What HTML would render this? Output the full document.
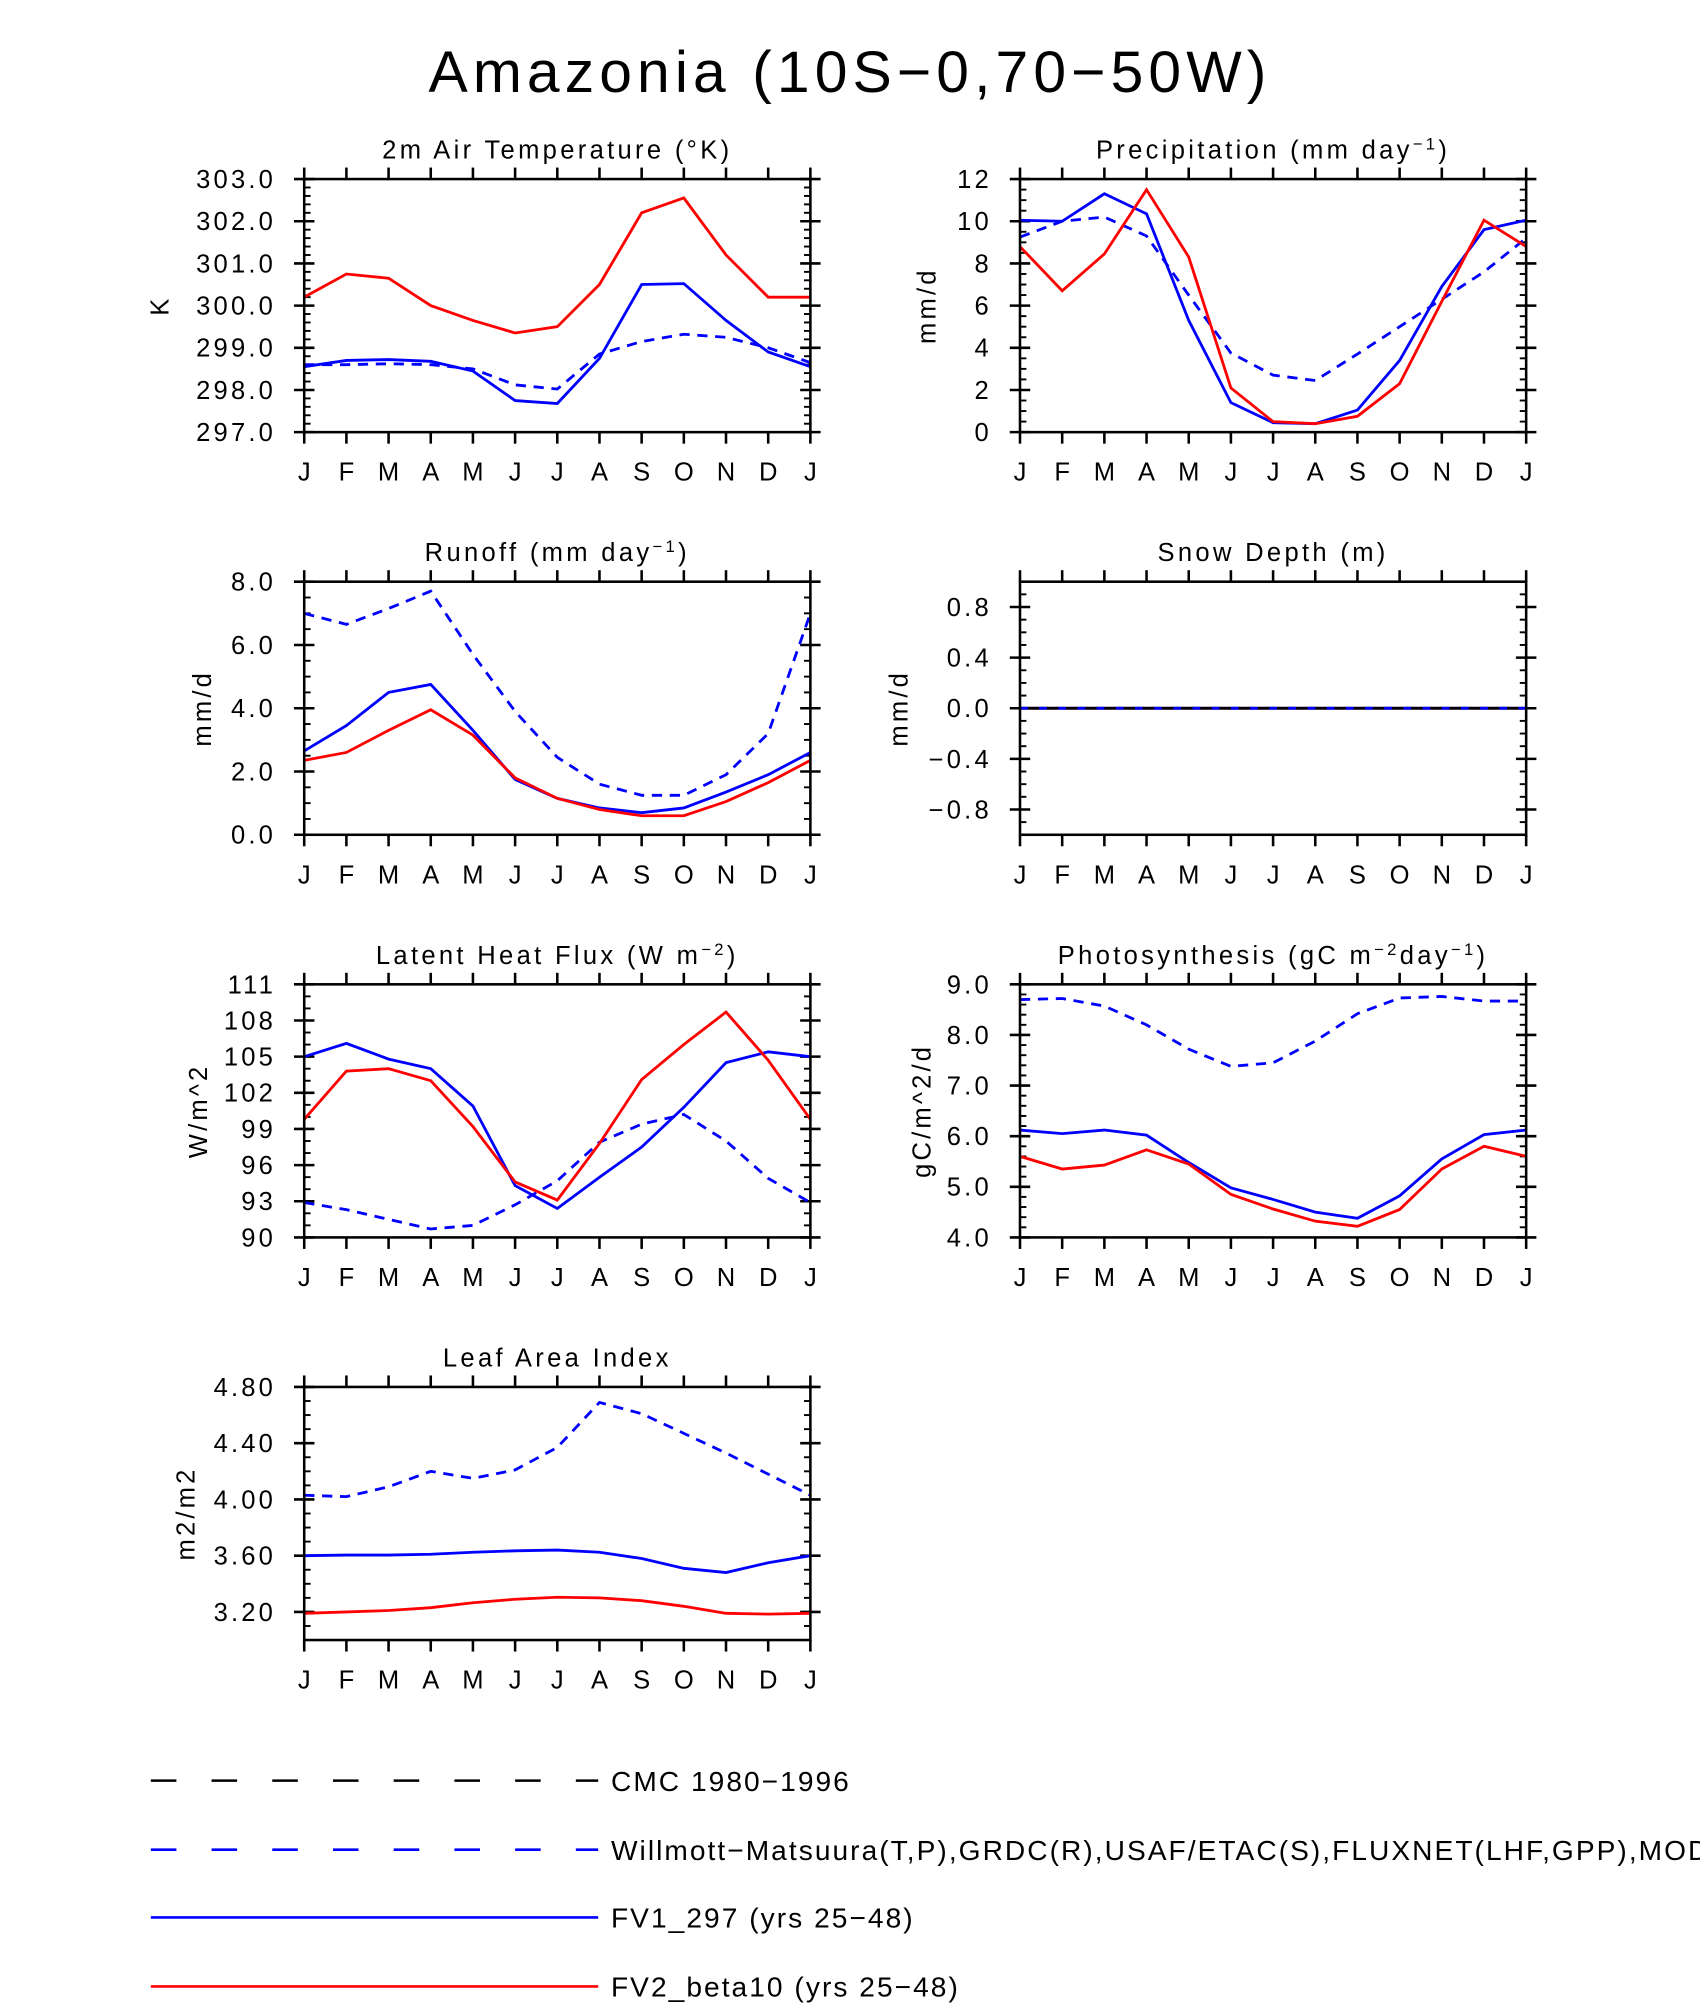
<!DOCTYPE html>
<html><head><meta charset="utf-8"><style>
html,body{margin:0;padding:0;background:#fff;}
svg{display:block;font-family:"Liberation Sans",sans-serif;}
</style></head><body>
<svg id="fig" width="1700" height="2007" viewBox="0 0 1330 1570" xmlns="http://www.w3.org/2000/svg">
<text x="665" y="72" font-size="46" text-anchor="middle" letter-spacing="4" fill="#000">Amazonia (10S−0,70−50W)</text>
<g id="panels"></g>
<g id="legend" letter-spacing="1.6">
 <line x1="118" y1="1393" x2="468" y2="1393" stroke="#000" stroke-width="2" stroke-dasharray="20,27.5"/>
 <text x="478" y="1401" font-size="22">CMC 1980−1996</text>
 <line x1="118" y1="1447" x2="468" y2="1447" stroke="#00f" stroke-width="2" stroke-dasharray="20,27.5"/>
 <text x="478" y="1455" font-size="22">Willmott−Matsuura(T,P),GRDC(R),USAF/ETAC(S),FLUXNET(LHF,GPP),MODIS(LAI)</text>
 <line x1="118" y1="1500" x2="468" y2="1500" stroke="#00f" stroke-width="2"/>
 <text x="478" y="1508" font-size="22">FV1_297 (yrs 25−48)</text>
 <line x1="118" y1="1554" x2="468" y2="1554" stroke="#f00" stroke-width="2"/>
 <text x="478" y="1562" font-size="22">FV2_beta10 (yrs 25−48)</text>
</g>
</svg>
<script>
const months = ["J","F","M","A","M","J","J","A","S","O","N","D","J"];
const tempObs = [298.6,298.6,298.62,298.6,298.5,298.12,298.02,298.85,299.15,299.32,299.25,299.0,298.65];
const tempFV1 = [298.55,298.7,298.72,298.68,298.45,297.75,297.68,298.75,300.5,300.52,299.65,298.9,298.55];
const tempFV2 = [300.2,300.75,300.65,300.0,299.65,299.35,299.5,300.5,302.2,302.55,301.2,300.2,300.2];
const precObs = [9.25,10.0,10.2,9.3,6.5,3.75,2.7,2.45,3.7,5.0,6.3,7.6,9.2];
const precFV1 = [10.05,10.0,11.3,10.35,5.3,1.4,0.45,0.4,1.05,3.4,6.9,9.6,10.05];
const precFV2 = [8.8,6.7,8.45,11.5,8.3,2.1,0.5,0.4,0.75,2.3,6.2,10.05,8.8];
const runObs = [7.0,6.65,7.15,7.7,5.7,3.9,2.45,1.6,1.25,1.25,1.9,3.2,7.0];
const runFV1 = [2.65,3.45,4.5,4.75,3.3,1.75,1.15,0.85,0.7,0.85,1.35,1.9,2.6];
const runFV2 = [2.35,2.6,3.3,3.95,3.15,1.8,1.15,0.8,0.6,0.6,1.05,1.65,2.35];
const snowCMC = [0,0,0,0,0,0,0,0,0,0,0,0,0];
const snowObs = [0,0,0,0,0,0,0,0,0,0,0,0,0];
const snowFV1 = [0,0,0,0,0,0,0,0,0,0,0,0,0];
const snowFV2 = [0,0,0,0,0,0,0,0,0,0,0,0,0];
const lhfObs = [92.9,92.3,91.5,90.7,91.0,92.7,94.7,97.9,99.4,100.2,98.0,94.9,92.9];
const lhfFV1 = [105.0,106.1,104.8,104.0,100.9,94.3,92.4,95.0,97.5,100.8,104.5,105.4,105.0];
const lhfFV2 = [99.8,103.8,104.0,103.0,99.2,94.6,93.1,97.8,103.1,106.0,108.7,104.7,99.8];
const gppObs = [8.7,8.72,8.57,8.2,7.72,7.38,7.45,7.88,8.42,8.73,8.76,8.67,8.67];
const gppFV1 = [6.12,6.05,6.12,6.02,5.48,4.98,4.75,4.5,4.38,4.82,5.55,6.03,6.12];
const gppFV2 = [5.6,5.35,5.43,5.73,5.45,4.85,4.56,4.32,4.22,4.55,5.35,5.8,5.6];
const laiObs = [4.03,4.02,4.09,4.2,4.15,4.21,4.37,4.69,4.61,4.47,4.33,4.18,4.03];
const laiFV1 = [3.6,3.605,3.605,3.61,3.625,3.635,3.64,3.625,3.58,3.51,3.48,3.55,3.6];
const laiFV2 = [3.19,3.2,3.21,3.23,3.265,3.29,3.305,3.3,3.28,3.24,3.19,3.185,3.19];
const tempTicks = ["297.0","298.0","299.0","300.0","301.0","302.0","303.0"];
const precTicks = ["0","2","4","6","8","10","12"];
const runTicks = ["0.0","2.0","4.0","6.0","8.0"];
const snowTicks = ["−0.8","−0.4","0.0","0.4","0.8"];
const lhfTicks = ["90","93","96","99","102","105","108","111"];
const gppTicks = ["4.0","5.0","6.0","7.0","8.0","9.0"];
const laiTicks = ["3.20","3.60","4.00","4.40","4.80"];

const NS="http://www.w3.org/2000/svg";
const root=document.getElementById('panels');
function mk(tag,attrs,parent){const e=document.createElementNS(NS,tag);for(const k in attrs)e.setAttribute(k,attrs[k]);parent.appendChild(e);return e;}

const panels=[
 {name:"temperature",x0:238,y0:140,title:"2m Air Temperature (°K)",ylab:"K",ylabX:132,min:297,max:303,minor:0.2,ticks:tempTicks,tickVals:[297,298,299,300,301,302,303],obs:tempObs,fv1:tempFV1,fv2:tempFV2},
 {name:"precipitation",x0:798,y0:140,title:["Precipitation (mm day","−1",")"],ylab:"mm/d",ylabX:732,min:0,max:12,minor:0.5,ticks:precTicks,tickVals:[0,2,4,6,8,10,12],obs:precObs,fv1:precFV1,fv2:precFV2},
 {name:"runoff",x0:238,y0:455,title:["Runoff (mm day","−1",")"],ylab:"mm/d",ylabX:165,min:0,max:8,minor:0.5,ticks:runTicks,tickVals:[0,2,4,6,8],obs:runObs,fv1:runFV1,fv2:runFV2},
 {name:"snow-depth",x0:798,y0:455,title:"Snow Depth (m)",ylab:"mm/d",ylabX:710,min:-1,max:1,minor:0.1,ticks:snowTicks,tickVals:[-0.8,-0.4,0,0.4,0.8],obs:snowObs,fv1:snowFV1,fv2:snowFV2,cmc:snowCMC},
 {name:"latent-heat",x0:238,y0:770,title:["Latent Heat Flux (W m","−2",")"],ylab:"W/m^2",ylabX:162,min:90,max:111,minor:1,ticks:lhfTicks,tickVals:[90,93,96,99,102,105,108,111],obs:lhfObs,fv1:lhfFV1,fv2:lhfFV2},
 {name:"photosynthesis",x0:798,y0:770,title:["Photosynthesis (gC m","−2","day","−1",")"],ylab:"gC/m^2/d",ylabX:728,min:4,max:9,minor:0.2,ticks:gppTicks,tickVals:[4,5,6,7,8,9],obs:gppObs,fv1:gppFV1,fv2:gppFV2},
 {name:"leaf-area-index",x0:238,y0:1085,title:"Leaf Area Index",ylab:"m2/m2",ylabX:152,min:3.0,max:4.8,minor:0.1,ticks:laiTicks,tickVals:[3.2,3.6,4.0,4.4,4.8],obs:laiObs,fv1:laiFV1,fv2:laiFV2}
];
const W=396,H=198;
panels.forEach(p=>{
 const g=mk('g',{},root);
 
 
 const xs=i=>p.x0+i*W/12;
 const ys=v=>p.y0+H-(v-p.min)/(p.max-p.min)*H;
 const t=mk('text',{x:p.x0+W/2,y:p.y0-16,'font-size':20,'text-anchor':'middle','letter-spacing':2.6},g);
 
 
 if(typeof p.title==='string'){t.textContent=p.title;}
 else{p.title.forEach((s,i)=>{const ts=mk('tspan',{},t);ts.textContent=s;if(i%2===1){ts.setAttribute('baseline-shift','super');ts.setAttribute('font-size','13');}});}
 const yl=mk('text',{x:p.ylabX,y:p.y0+H/2,'font-size':20,'text-anchor':'middle','letter-spacing':2.5,transform:`rotate(-90 ${p.ylabX} ${p.y0+H/2})`},g);
 yl.textContent=p.ylab;
 
 
 const n=Math.round((p.max-p.min)/p.minor);
 for(let k=0;k<=n;k++){const y=ys(p.min+k*p.minor);
  mk('line',{x1:p.x0,x2:p.x0+5,y1:y,y2:y,stroke:'#000','stroke-width':1.5},g);
  mk('line',{x1:p.x0+W-5,x2:p.x0+W,y1:y,y2:y,stroke:'#000','stroke-width':1.5},g);}
 p.tickVals.forEach((v,i)=>{const y=ys(v);
  mk('line',{x1:p.x0-8,x2:p.x0+8,y1:y,y2:y,stroke:'#000','stroke-width':2},g);
  mk('line',{x1:p.x0+W-8,x2:p.x0+W+8,y1:y,y2:y,stroke:'#000','stroke-width':2},g);
  const tl=mk('text',{x:p.x0-22,y:y+7,'font-size':20,'text-anchor':'end','letter-spacing':2.5},g);
  tl.textContent=p.ticks[i];
  
  
 });
 months.forEach((m,i)=>{const x=xs(i);
  mk('line',{x1:x,x2:x,y1:p.y0-9,y2:p.y0,stroke:'#000','stroke-width':2},g);
  mk('line',{x1:x,x2:x,y1:p.y0+H,y2:p.y0+H+9,stroke:'#000','stroke-width':2},g);
  const ml=mk('text',{x:x,y:p.y0+H+38,'font-size':20,'text-anchor':'middle'},g);
  ml.textContent=m;
  
  
 });
 let series=[[p.obs,'#00f','8,6','obs'],[p.fv1,'#00f','none','fv1'],[p.fv2,'#f00','none','fv2']];
 if(p.cmc) series=[[p.fv2,'#f00','none','fv2'],[p.fv1,'#00f','none','fv1'],[p.cmc,'#000','none','cmc'],[p.obs,'#00f','6,9','obs']];
 series.forEach(([d,c,da,nm])=>{
  const pts=d.map((v,i)=>xs(i).toFixed(1)+','+ys(v).toFixed(1)).join(' ');
  const pl=mk('polyline',{points:pts,fill:'none',stroke:c,'stroke-width':2.2,'stroke-dasharray':da},g);
  
  
 });
 const fr=mk('rect',{x:p.x0,y:p.y0,width:W,height:H,fill:'none',stroke:'#000','stroke-width':2},g);
 
 
});
</script>
</body></html>
